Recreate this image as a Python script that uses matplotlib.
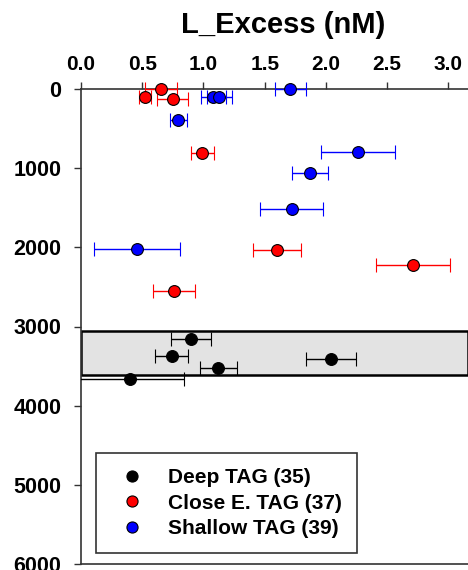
import matplotlib
matplotlib.use('Agg')
import matplotlib.pyplot as plt
from matplotlib.lines import Line2D

plt.rcParams['font.family'] = ['Liberation Sans', 'DejaVu Sans']
plt.rcParams['font.weight'] = 'bold'

# Deep TAG (35)
deep_x = [0.90, 0.74, 2.04, 1.12, 0.40]
deep_depth = [3160, 3375, 3405, 3525, 3660]
deep_err = [0.165, 0.135, 0.205, 0.15, 0.44]

# Close E. TAG (37)
close_x = [0.65, 0.52, 0.75, 0.99, 1.60, 2.71, 0.76]
close_depth = [5, 105, 126, 805, 2030, 2225, 2548]
close_err = [0.13, 0.05, 0.127, 0.095, 0.195, 0.30, 0.17]

# Shallow TAG (39)
shallow_x = [1.71, 1.08, 1.13, 0.795, 2.26, 1.87, 1.72, 0.46]
shallow_depth = [5, 105, 105, 396, 801, 1055, 1510, 2017]
shallow_err = [0.13, 0.10, 0.10, 0.07, 0.30, 0.145, 0.26, 0.35]

box_top = 3053
box_bottom = 3613

labels = ['Deep TAG (35)', 'Close E. TAG (37)', 'Shallow TAG (39)']
colors = ['black', 'red', 'blue']

fig = plt.figure(figsize=(4.68, 5.7), dpi=100)
ax = fig.add_axes([81 / 468, 6 / 570, (468 - 81) / 468, (564 - 89) / 570])

ax.axhspan(box_top, box_bottom, facecolor='#e3e3e3', edgecolor='black', lw=1.8, zorder=0)

series = [(deep_x, deep_depth, deep_err), (close_x, close_depth, close_err),
          (shallow_x, shallow_depth, shallow_err)]
for i, ((x, y, e), c) in enumerate(zip(series, colors)):
    line, caps, bars = ax.errorbar(x, y, xerr=e, fmt='o', color=c, mfc=c, mec='black',
                                   ms=8.5, mew=0.8, ecolor=c, elinewidth=1, capsize=5,
                                   capthick=1, zorder=3)
    # points at the surface spill over the top axis line, as in the original
    line.set_clip_on(False)
    if i > 0:
        for cp in caps:
            cp.set_clip_on(False)
        for b in bars:
            b.set_clip_on(False)

ax.set_xlim(0, 3.16)
ax.set_ylim(6000, 0)
ax.set_xticks([0.0, 0.5, 1.0, 1.5, 2.0, 2.5, 3.0])
ax.set_yticks([0, 1000, 2000, 3000, 4000, 5000, 6000])
ax.xaxis.tick_top()
ax.tick_params(axis='x', direction='out', length=5, width=1, color='#333333', labelsize=15, pad=6)
ax.tick_params(axis='y', direction='out', length=5, width=1, color='#333333', labelsize=15.5, pad=9)
ax.spines['right'].set_visible(False)
for s in ['top', 'left', 'bottom']:
    ax.spines[s].set_color('#333333')
    ax.spines[s].set_linewidth(1.2)

fig.text(283 / 468, 1 - 33 / 570, 'L_Excess (nM)', ha='center', va='baseline',
         fontsize=21, fontweight='bold')

handles = [Line2D([], [], marker='o', ls='none', color=c, mec='black', mew=0.8, ms=8)
           for c in colors]
leg = ax.legend(handles, labels, loc='upper left', bbox_to_anchor=(95.7 / 468, 1 - 452.7 / 570),
                bbox_transform=fig.transFigure, fontsize=15, frameon=True, fancybox=False,
                edgecolor='black', borderpad=0.75, handlelength=2.0, handletextpad=0.7,
                labelspacing=0.3, borderaxespad=0)
leg.get_frame().set_linewidth(1.2)

fig.savefig('out.png', dpi=100)
